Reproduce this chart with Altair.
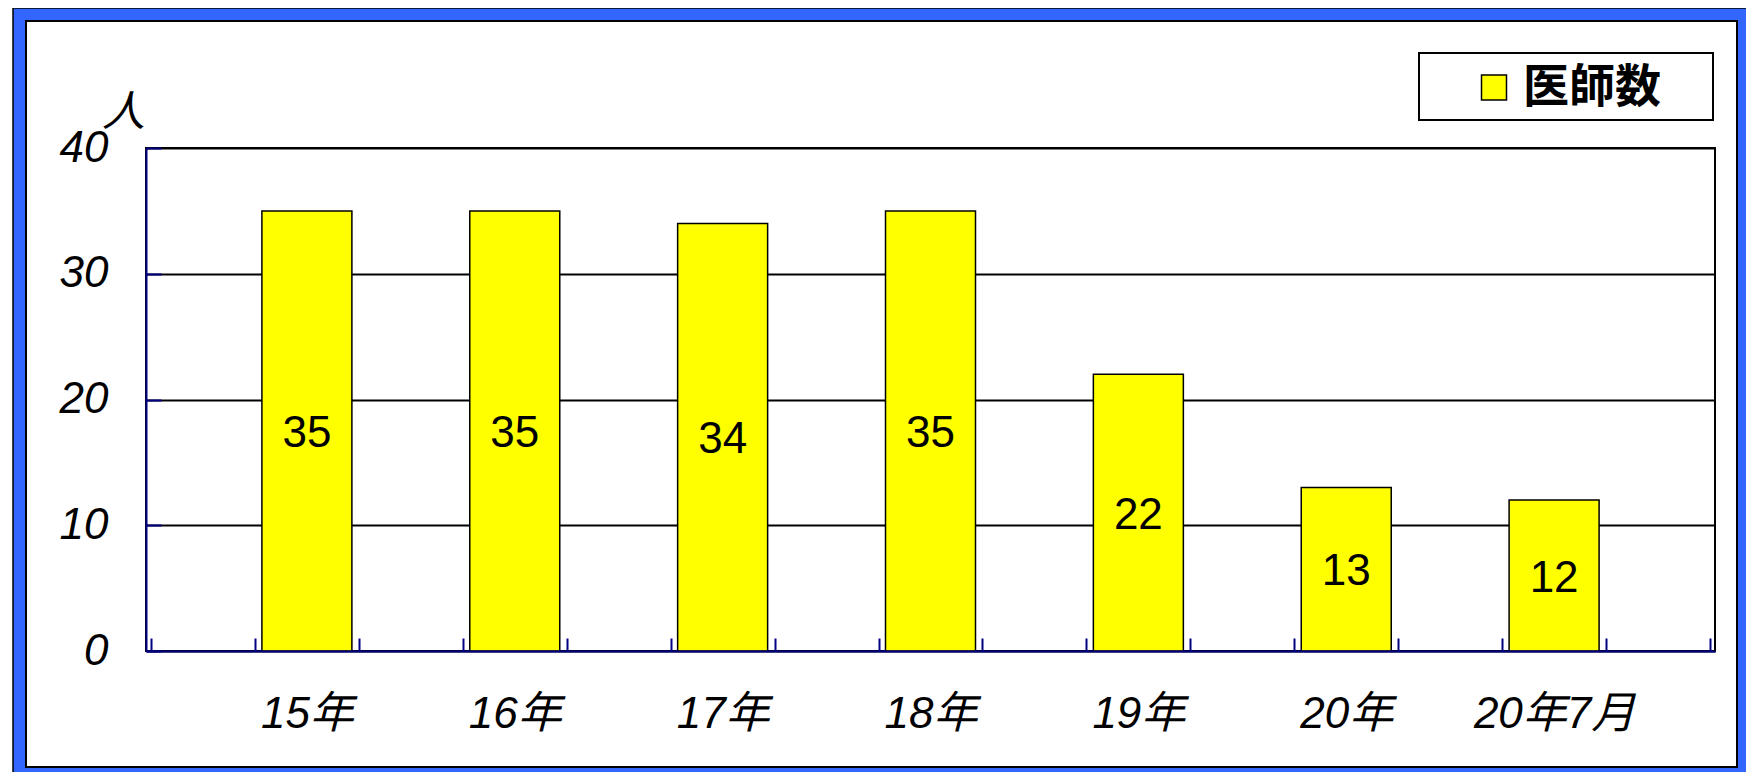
import altair as alt
import pandas as pd

# ---- data ----
categories = ["15年", "16年", "17年", "18年", "19年", "20年", "20年7月"]
doctors = [35, 35, 34, 35, 22, 13, 12]
series_name = "医師数"
unit_label = "人"
y_ticks = [0, 10, 20, 30, 40]
x_slot_ticks = list(range(16))          # 15 slots on the category axis
slots = [2 * i + 1.5 for i in range(len(categories))]  # bars sit in every other slot

df = pd.DataFrame({
    "category": categories,
    "doctors": doctors,
    "slot": slots,
    "series": [series_name] * len(categories),
})

# ---- layout / style ----
W, H = 1569, 503
NAVY = "#000080"
BLUE = "#3366FF"
FONT = "Liberation Sans, Noto Sans CJK JP"
CJK = "Noto Sans CJK JP"

label_expr = "[" + ",".join(f"'{c}'" for c in categories) + "][round((datum.value - 1.5) / 2)]"

xscale = alt.Scale(domain=[0, 15], nice=False, zero=False)
yscale = alt.Scale(domain=[0, 40], nice=False)

frame_data = alt.Data(values=[{"f": 1}])


def frame(x, x2, y, y2, color, sw):
    return alt.Chart(frame_data).mark_rect(
        fill="white", fillOpacity=0, stroke=color, strokeWidth=sw
    ).encode(x=alt.value(x), x2=alt.value(x2), y=alt.value(y), y2=alt.value(y2))


blue_frame = frame(-126.5, W + 29.5, -133.5, H + 123.5, BLUE, 13)
outer_line = frame(-133, W + 36, -140, H + 130, "black", 1.5)
inner_line = frame(-120, W + 22, -127, H + 116, "black", 2)
legend_box = frame(1273, W - 2, -95, -28, "black", 2)

bars = alt.Chart(df).mark_bar(width=90, stroke="black", strokeWidth=1.5).encode(
    x=alt.X("slot:Q", scale=xscale, axis=alt.Axis(
        values=slots, labelExpr=label_expr, ticks=False, domain=True,
        domainColor=NAVY, domainWidth=2, grid=False, labelFont=FONT,
        labelFontSize=44, labelFontStyle="italic", labelColor="black",
        labelPadding=41, title=None, orient="bottom", zindex=1,
        labelFlush=False, labelOverlap=False, labelLimit=400)),
    y=alt.Y("doctors:Q", scale=yscale, axis=alt.Axis(
        values=y_ticks, ticks=False, domain=True, domainColor=NAVY, domainWidth=2,
        grid=True, gridColor="black", gridWidth=2, gridOpacity=1,
        labelFont=FONT, labelFontSize=44, labelFontStyle="italic", labelColor="black",
        labelPadding=38, labelFlush=False, labelOverlap=False,
        title=unit_label, titleAngle=0, titleX=-23, titleY=-36, titleAlign="center",
        titleBaseline="middle", titleFont=CJK, titleFontSize=43, titleFontStyle="italic",
        titleFontWeight="normal", titleColor="black", orient="left")),
    fill=alt.Fill("series:N", scale=alt.Scale(domain=[series_name], range=["#FFFF00"]),
                  legend=alt.Legend(
                      orient="none", legendX=1325, legendY=-83.5,
                      title=None, padding=0,
                      symbolType="square", symbolSize=625, symbolStrokeColor="black",
                      symbolStrokeWidth=1.5, labelFont=CJK, labelFontSize=46,
                      labelFontWeight="bold", labelColor="black", labelOffset=6,
                      labelLimit=400)),
)

text = alt.Chart(df).transform_calculate(half="datum.doctors / 2").mark_text(
    fontSize=44, font=FONT, baseline="middle", align="center", color="black", dy=3
).encode(
    x=alt.X("slot:Q", scale=xscale, axis=alt.Axis(
        values=x_slot_ticks, labels=False, domain=False, grid=False, ticks=True,
        tickSize=13, tickColor=NAVY, tickWidth=2, offset=-13, orient="bottom",
        title=None, zindex=1)),
    y=alt.Y("half:Q", scale=yscale, axis=alt.Axis(
        values=y_ticks, labels=False, domain=False, grid=False, ticks=True,
        tickSize=15, tickColor=NAVY, tickWidth=2, offset=-15, orient="left",
        title=None, zindex=1)),
    text=alt.Text("doctors:Q"),
)

chart = alt.layer(blue_frame, outer_line, inner_line, legend_box, bars, text).resolve_axis(
    x="independent", y="independent"
).properties(
    width=W, height=H,
    autosize=alt.AutoSizeParams(type="none"),
    padding={"left": 138, "top": 140, "right": 31, "bottom": 121},
    background="white",
).configure_view(stroke="black", strokeWidth=2)

chart.save("out.html", embed_options={"renderer": "svg", "actions": False})
